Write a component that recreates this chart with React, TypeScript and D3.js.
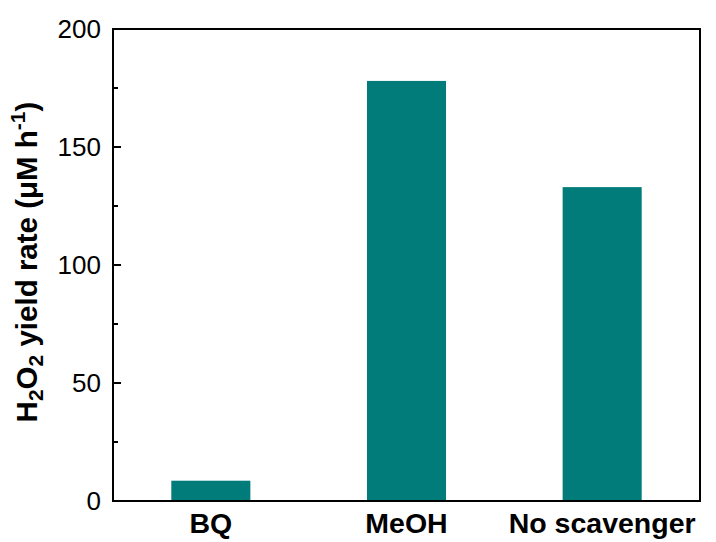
import React from 'react';
import * as d3 from 'd3';

const categories = ['BQ', 'MeOH', 'No scavenger'];
const yieldRates = [8.6, 178, 133];
const yTicks = [0, 50, 100, 150, 200];
const yMinorTicks = [25, 75, 125, 175];

const width = 716;
const height = 542;
const margin = {left: 113, right: 16, top: 29, bottom: 41};
const barColor = '#027C7B';
const font = '"Liberation Sans", Arial, sans-serif';

export default function App() {
  const x = d3.scaleBand()
    .domain(categories)
    .range([margin.left, width - margin.right])
    .paddingInner(0.596)
    .paddingOuter(0.298);

  const y = d3.scaleLinear()
    .domain([0, 200])
    .range([height - margin.bottom, margin.top]);

  const x0 = margin.left;
  const x1 = width - margin.right;
  const y0 = height - margin.bottom;
  const y1 = margin.top;

  return (
    <svg width={width} height={height} style={{position: 'absolute', left: 0, top: 0}}>
      <rect width={width} height={height} fill="#fff" />
      {categories.map((c, i) => (
        <rect
          key={c}
          x={x(c)}
          y={y(yieldRates[i])}
          width={x.bandwidth()}
          height={y(0) - y(yieldRates[i])}
          fill={barColor}
        />
      ))}
      {/* frame */}
      <rect x={x0} y={y1} width={x1 - x0} height={y0 - y1} fill="none" stroke="#000" strokeWidth={2} />
      {yTicks.map(t => (
        <g key={t}>
          <line x1={x0} x2={x0 + 8} y1={y(t)} y2={y(t)} stroke="#000" strokeWidth={2} />
          <text x={101} y={y(t)} dy="0.36em" textAnchor="end" fontFamily={font} fontSize={26}>{t}</text>
        </g>
      ))}
      {yMinorTicks.map(t => (
        <line key={t} x1={x0} x2={x0 + 5} y1={y(t)} y2={y(t)} stroke="#000" strokeWidth={2} />
      ))}
      {categories.map(c => (
        <text key={c} x={x(c) + x.bandwidth() / 2} y={533} textAnchor="middle"
          fontFamily={font} fontSize={28.5} fontWeight="bold">{c}</text>
      ))}
      <text transform={`translate(37,262) rotate(-90)`} textAnchor="middle"
        fontFamily={font} fontSize={29.5} fontWeight="bold">
        H<tspan fontSize={21} dy={6}>2</tspan>
        <tspan dy={-6}>O</tspan>
        <tspan fontSize={21} dy={6}>2</tspan>
        <tspan dy={-6}> yield rate (μM h</tspan>
        <tspan fontSize={21} dy={-12}>-1</tspan>
        <tspan dy={12}>)</tspan>
      </text>
    </svg>
  );
}
